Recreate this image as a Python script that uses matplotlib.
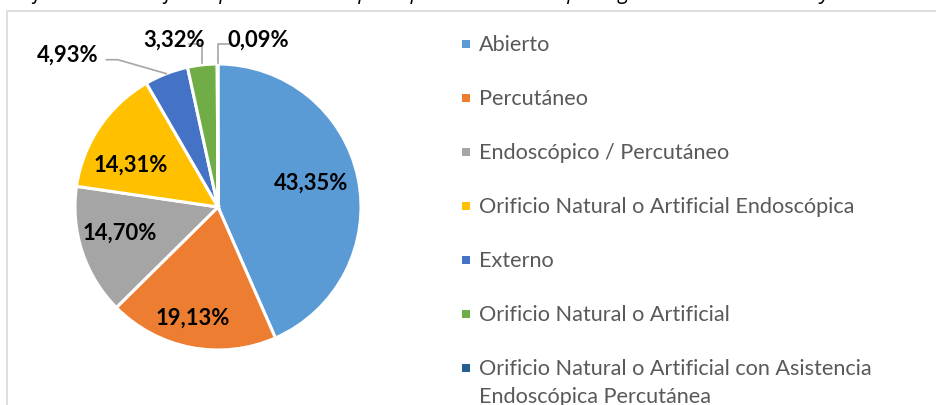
import numpy as np
import matplotlib.pyplot as plt
from matplotlib.patches import Rectangle

categories = [
    "Abierto",
    "Percutáneo",
    "Endoscópico / Percutáneo",
    "Orificio Natural o Artificial Endoscópica",
    "Externo",
    "Orificio Natural o Artificial",
    "Orificio Natural o Artificial con Asistencia\nEndoscópica Percutánea",
]
values = [43.35, 19.13, 14.70, 14.31, 4.93, 3.32, 0.09]
value_labels = ["43,35%", "19,13%", "14,70%", "14,31%", "4,93%", "3,32%", "0,09%"]
colors = ["#5B9BD5", "#ED7D31", "#A5A5A5", "#FFC000", "#4472C4", "#70AD47", "#255E91"]

W, H = 936, 406
fig = plt.figure(figsize=(W / 100, H / 100), dpi=100)

# chart frame (cut by the image edges)
fig.patches.append(Rectangle((7 / W, -0.1), 1.1, 1 - 12 / H + 0.1, transform=fig.transFigure,
                             fill=False, edgecolor="#D9D9D9", linewidth=1.2))

# caption above the chart, mostly cut off in the source
fig.text(0.0, 1 + 7 / H, "Gráfico N. Abordaje del procedimiento principal en los casos quirúrgicos con estancia mayor de un día",
         fontsize=15, style="italic", family="Open Sans", va="center", ha="left", color="#000000")

cx, cy, r = 218, 208, 143
ax = fig.add_axes([(cx - r) / W, (H - cy - r) / H, 2 * r / W, 2 * r / H])
wedges, _ = ax.pie(values, colors=colors, startangle=90, counterclock=False,
                   wedgeprops=dict(edgecolor="white", linewidth=2.2))
ax.set_xlim(-1, 1)
ax.set_ylim(-1, 1)
ax.set_aspect("equal")
ax.axis("off")

label_font = dict(fontsize=15.8, fontweight="bold", family="Lato", color="#000000")

# labels inside the big slices
inside = {0: (0.67, 3), 1: (0.79, -2), 2: (0.71, -4), 3: (0.68, 8)}
for i, (dist, shift) in inside.items():
    w = wedges[i]
    ang = np.deg2rad((w.theta1 + w.theta2) / 2 + shift)
    ax.text(dist * np.cos(ang), dist * np.sin(ang), value_labels[i], ha="center", va="center", **label_font)

# labels outside the small slices, with leader lines
outside = {4: ((-1.05, 1.07), (-0.70, 1.03)),
           5: ((-0.31, 1.17), (-0.12, 1.14)),
           6: ((0.28, 1.17), (0.02, 1.14))}
for i, (pos, elbow) in outside.items():
    w = wedges[i]
    ang = np.deg2rad((w.theta1 + w.theta2) / 2)
    ex, ey = np.cos(ang), np.sin(ang)
    side = -1 if pos[0] < elbow[0] else 1
    end_x = elbow[0] + side * 0.08
    if i == 4:
        ax.plot([end_x, elbow[0], ex], [elbow[1], elbow[1], ey], color="#A6A6A6", lw=1.2, clip_on=False)
    else:
        ax.plot([end_x, ex, ex], [elbow[1], elbow[1], ey + 0.01], color="#A6A6A6", lw=1.2, clip_on=False)
    ax.text(pos[0], pos[1], value_labels[i], ha="center", va="center", clip_on=False, **label_font)

# legend on the right
x_mark, x_text = 462, 479
y0, step, line_h = 45, 54, 28
for i, (cat, col) in enumerate(zip(categories, colors)):
    yc = y0 + i * step
    fig.patches.append(Rectangle((x_mark / W, (H - yc - 4) / H), 8 / W, 8 / H,
                                 transform=fig.transFigure, facecolor=col, edgecolor="none"))
    for k, line in enumerate(cat.split("\n")):
        fig.text(x_text / W, (H - yc - k * line_h) / H, line, fontsize=15.6, family="Lato",
                 color="#595959", ha="left", va="center")

fig.savefig("out.png", dpi=100)
